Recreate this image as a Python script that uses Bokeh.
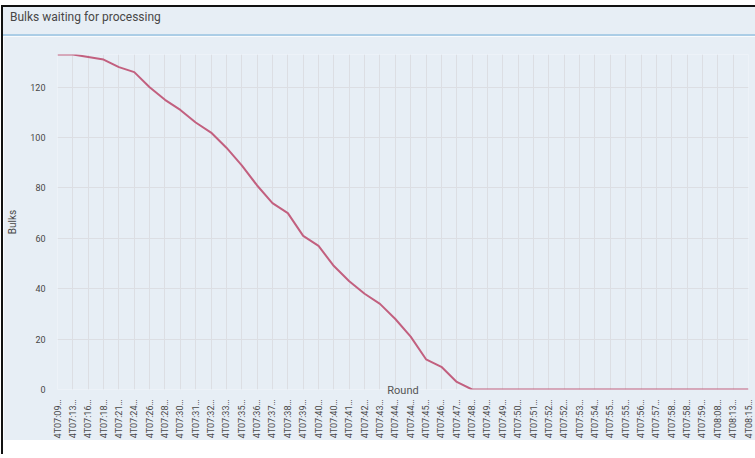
import math
from bokeh.plotting import figure
from bokeh.models import Range1d, FixedTicker, Div
from bokeh.layouts import column
from bokeh.embed import file_html
from bokeh.resources import INLINE

# ---- data ----
rounds = [
    "4T07:09…", "4T07:13…", "4T07:16…", "4T07:18…", "4T07:21…", "4T07:24…",
    "4T07:26…", "4T07:28…", "4T07:30…", "4T07:31…", "4T07:32…", "4T07:33…",
    "4T07:35…", "4T07:36…", "4T07:37…", "4T07:38…", "4T07:39…", "4T07:40…",
    "4T07:40…", "4T07:41…", "4T07:42…", "4T07:43…", "4T07:44…", "4T07:44…",
    "4T07:45…", "4T07:46…", "4T07:47…", "4T07:48…", "4T07:49…", "4T07:49…",
    "4T07:50…", "4T07:51…", "4T07:52…", "4T07:52…", "4T07:53…", "4T07:54…",
    "4T07:55…", "4T07:55…", "4T07:56…", "4T07:57…", "4T07:58…", "4T07:58…",
    "4T07:59…", "4T08:08…", "4T08:13…", "4T08:15…",
]
bulks = [
    133, 133, 132, 131, 128, 126, 120, 115, 111, 106, 102, 96,
    89, 81, 74, 70, 61, 57, 49, 43, 38, 34, 28, 21,
    12, 9, 3, 0, 0, 0, 0, 0, 0, 0, 0, 0,
    0, 0, 0, 0, 0, 0, 0, 0, 0, 0,
]
y_ticks = [0, 20, 40, 60, 80, 100, 120]
title_text = "Bulks waiting for processing"
x_title = "Round"
y_title = "Bulks"

BG = "#e7eef5"
GRID = "#dcdee3"
LINE = "#c2607f"
TXT = "#474747"
FONT = "Roboto"

W = 752
HEAD_H = 29
H = 404
L, R, T, B = 54, 7, 18, 51

xs = list(range(len(rounds)))

head = Div(text=title_text, width=W, height=HEAD_H, margin=0,
           styles={"background-color": BG, "border-bottom": "2px solid #abcde6",
                   "box-sizing": "border-box", "font-family": FONT,
                   "font-size": "12px", "color": TXT, "padding-left": "7px",
                   "line-height": "20px", "overflow": "hidden"})

p = figure(width=W, height=H, output_backend="svg", toolbar_location=None,
           x_range=Range1d(0, len(rounds) - 1), y_range=Range1d(0, max(bulks)),
           min_border_left=L, min_border_right=R, min_border_top=T, min_border_bottom=B,
           background_fill_color=BG, border_fill_color=BG, outline_line_color=None,
           margin=0)

p.line(xs, bulks, line_color=LINE, line_width=2)

# axes
p.xaxis.ticker = FixedTicker(ticks=xs)
p.xaxis.major_label_overrides = {i: lab for i, lab in enumerate(rounds)}
p.xaxis.major_label_orientation = math.pi / 2
p.xaxis.major_label_standoff = 10
p.xaxis.axis_label = x_title
p.xaxis.axis_label_text_font = FONT
p.xaxis.axis_label_text_font_size = "11px"
p.xaxis.axis_label_text_font_style = "normal"
p.xaxis.axis_label_text_color = "#555555"
p.xaxis.axis_label_standoff = -57
p.yaxis.ticker = FixedTicker(ticks=y_ticks)
p.yaxis.major_label_standoff = 12
p.yaxis.axis_label = y_title
p.yaxis.axis_label_text_font = FONT
p.yaxis.axis_label_text_font_size = "10px"
p.yaxis.axis_label_text_font_style = "normal"
p.yaxis.axis_label_text_color = TXT
p.yaxis.axis_label_standoff = 9
for ax in (p.xaxis[0], p.yaxis[0]):
    ax.axis_line_color = None
    ax.major_tick_line_color = None
    ax.minor_tick_line_color = None
    ax.major_tick_out = 0
    ax.major_tick_in = 0
    ax.major_label_text_font = FONT
    ax.major_label_text_font_size = "9px"
    ax.major_label_text_color = TXT

p.xgrid.ticker = FixedTicker(ticks=xs)
p.ygrid.ticker = FixedTicker(ticks=y_ticks)
for g in (p.xgrid[0], p.ygrid[0]):
    g.grid_line_color = GRID
    g.grid_line_width = 1

layout = column(head, p, spacing=0)

html = file_html(layout, INLINE)
css = ("<style>html{overflow:hidden;}body{margin:5px 0 0 1px;padding:0;"
       "border-top:2px solid #111;border-left:2px solid #111;height:449px;}</style>")
html = html.replace("</head>", css + "</head>", 1)
open("out.html", "w").write(html)
